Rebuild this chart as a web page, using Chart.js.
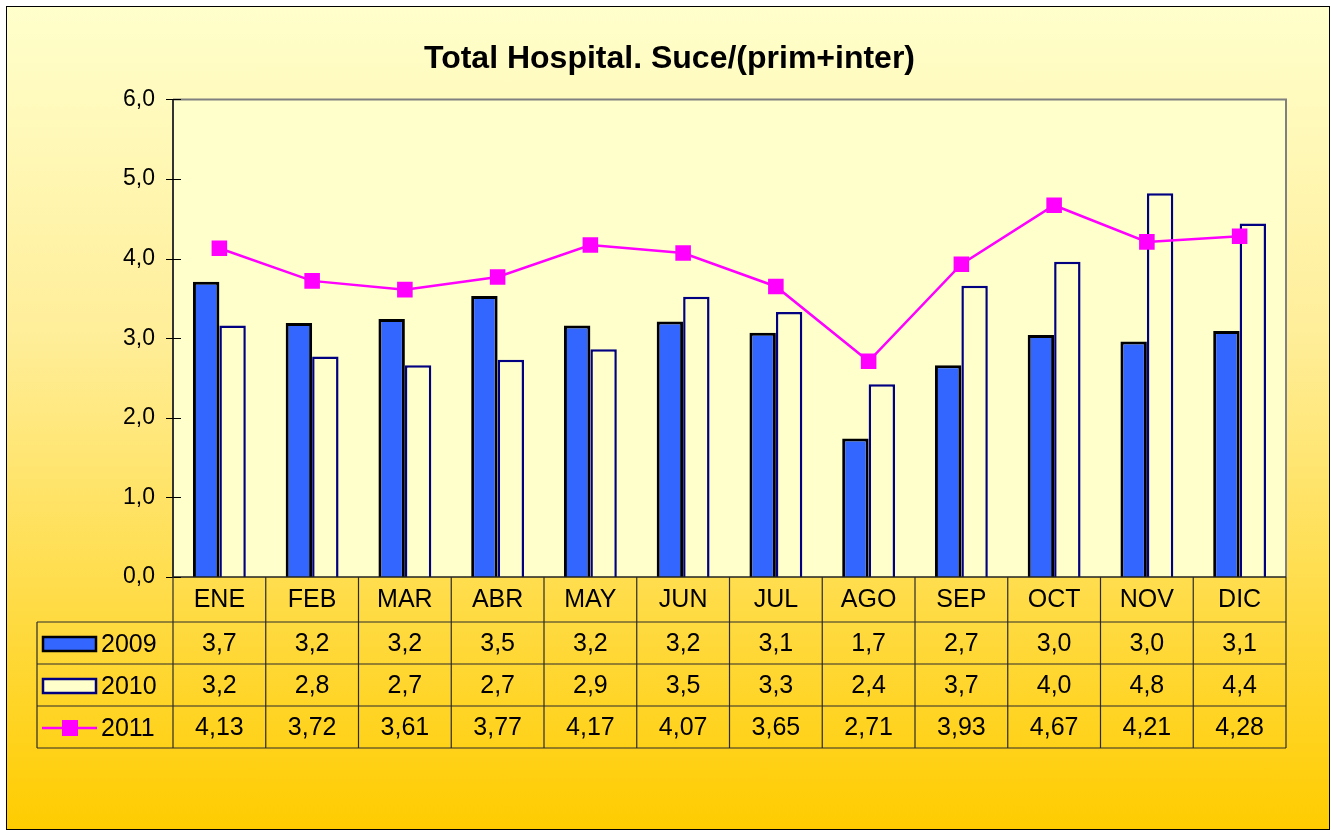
<!DOCTYPE html>
<html lang="es">
<head>
  <meta charset="UTF-8" />
  <title>Total Hospital. Suce/(prim+inter)</title>
  <script src="https://cdn.jsdelivr.net/npm/chart.js"></script>
  <style>
    body {
      margin: 0;
      padding: 0;
      background: #ffffff;
      font-family: 'Liberation Sans', Arial, sans-serif;
      overflow: hidden;
    }
    /* outer frame with the yellow gradient */
    #bg {
      position: absolute;
      left: 6px;
      top: 6px;
      width: 1322px;
      height: 822px;
      border: 1px solid #000;
      background: linear-gradient(to bottom, #FFFFCC 0%, #FFEE99 40%, #FFCC00 100%);
    }
    #chart {
      position: absolute;
      left: 0;
      top: 0;
    }
  </style>
</head>
<body>
  <div id="bg"></div>
  <canvas id="chart" width="1331" height="830"></canvas>

<script>
  // data
  const months = ['ENE', 'FEB', 'MAR', 'ABR', 'MAY', 'JUN', 'JUL', 'AGO', 'SEP', 'OCT', 'NOV', 'DIC'];
  const values2009 = [3.71, 3.19, 3.24, 3.53, 3.16, 3.21, 3.07, 1.74, 2.66, 3.04, 2.96, 3.09];
  const values2010 = [3.16, 2.77, 2.66, 2.73, 2.86, 3.52, 3.33, 2.42, 3.66, 3.96, 4.82, 4.44];
  const values2011 = [4.13, 3.72, 3.61, 3.77, 4.17, 4.07, 3.65, 2.71, 3.93, 4.67, 4.21, 4.28];
  const yTicks = [0, 1, 2, 3, 4, 5, 6];

  const FONT = "'Liberation Sans', Arial, sans-serif";
  const comma = (v, d) => v.toFixed(d).replace('.', ',');

  // table geometry
  const headerH = 45;
  const rowH = 42;
  const legendLeft = 37;

  const tableRows = [
    { label: '2009', values: values2009, digits: 1, kind: 'bar', fill: '#3366FF', stroke: '#000000' },
    { label: '2010', values: values2010, digits: 1, kind: 'bar', fill: '#FFFFCC', stroke: '#000080' },
    { label: '2011', values: values2011, digits: 2, kind: 'line', fill: '#FF00FF', stroke: '#FF00FF' }
  ];

  const dataTablePlugin = {
    id: 'dataTable',
    beforeDraw(chart) {
      const { ctx, chartArea: a } = chart;
      ctx.save();
      ctx.fillStyle = '#FFFFCC';
      ctx.fillRect(a.left, a.top, a.right - a.left, a.bottom - a.top);
      ctx.restore();
    },
    afterDraw(chart) {
      const { ctx, chartArea: a } = chart;
      const yScale = chart.scales.y;
      const w = (a.right - a.left) / months.length;
      ctx.save();

      // plot frame: top/right grey, left/bottom dark
      ctx.lineWidth = 2;
      ctx.strokeStyle = '#808080';
      ctx.beginPath();
      ctx.moveTo(a.left, a.top);
      ctx.lineTo(a.right, a.top);
      ctx.lineTo(a.right, a.bottom);
      ctx.stroke();
      ctx.strokeStyle = '#333333';
      ctx.beginPath();
      ctx.moveTo(a.left, a.top);
      ctx.lineTo(a.left, a.bottom);
      ctx.stroke();
      ctx.lineWidth = 1.5;
      ctx.strokeStyle = '#222222';
      ctx.beginPath();
      ctx.moveTo(a.left, a.bottom);
      ctx.lineTo(a.right, a.bottom);
      ctx.stroke();

      // y tick marks that cross the axis
      ctx.lineWidth = 1;
      ctx.strokeStyle = '#000';
      yTicks.forEach(t => {
        const y = Math.round(yScale.getPixelForValue(t)) + 0.5;
        ctx.beginPath();
        ctx.moveTo(a.left - 7, y);
        ctx.lineTo(a.left + 8, y);
        ctx.stroke();
      });

      // table grid
      const top = a.bottom;
      const rowsTop = top + headerH;
      const bottom = rowsTop + rowH * tableRows.length;
      ctx.strokeStyle = '#2a2a2a';
      ctx.lineWidth = 1.2;
      for (let i = 0; i <= months.length; i++) {
        const x = a.left + i * w;
        ctx.beginPath();
        ctx.moveTo(x, top);
        ctx.lineTo(x, bottom);
        ctx.stroke();
      }
      ctx.beginPath();
      ctx.moveTo(legendLeft, rowsTop);
      ctx.lineTo(legendLeft, bottom);
      ctx.stroke();
      for (let r = 0; r <= tableRows.length; r++) {
        const y = rowsTop + r * rowH;
        ctx.beginPath();
        ctx.moveTo(legendLeft, y);
        ctx.lineTo(a.right, y);
        ctx.stroke();
      }

      // category labels
      ctx.fillStyle = '#000';
      ctx.font = '25px ' + FONT;
      ctx.textAlign = 'center';
      ctx.textBaseline = 'middle';
      months.forEach((m, i) => {
        ctx.fillText(m, a.left + (i + 0.5) * w, top + headerH / 2 + 1);
      });

      // rows
      tableRows.forEach((row, r) => {
        const cy = rowsTop + r * rowH + rowH / 2 + 1;
        row.values.forEach((v, i) => {
          ctx.fillStyle = '#000';
          ctx.textAlign = 'center';
          ctx.fillText(comma(v, row.digits), a.left + (i + 0.5) * w, cy);
        });
        // legend key
        if (row.kind === 'bar') {
          ctx.fillStyle = row.fill;
          ctx.fillRect(43, cy - 7, 53, 14);
          ctx.lineWidth = 2.5;
          ctx.strokeStyle = row.stroke;
          ctx.strokeRect(43, cy - 7, 53, 14);
        } else {
          ctx.strokeStyle = row.stroke;
          ctx.lineWidth = 2.5;
          ctx.beginPath();
          ctx.moveTo(42, cy);
          ctx.lineTo(97, cy);
          ctx.stroke();
          ctx.fillStyle = row.fill;
          ctx.fillRect(62, cy - 8, 16, 16);
        }
        ctx.fillStyle = '#000';
        ctx.textAlign = 'left';
        ctx.fillText(row.label, 101, cy + 1);
      });

      ctx.restore();
    }
  };

  const ctx = document.getElementById('chart').getContext('2d');

  new Chart(ctx, {
    type: 'bar',
    data: {
      labels: months,
      datasets: [
        {
          type: 'line',
          label: '2011',
          data: values2011,
          borderColor: '#FF00FF',
          borderWidth: 2.5,
          pointStyle: 'rect',
          pointRadius: 11,
          pointBorderWidth: 0,
          pointBackgroundColor: '#FF00FF',
          tension: 0,
          order: 0
        },
        {
          label: '2009',
          data: values2009,
          backgroundColor: '#3366FF',
          borderColor: '#000000',
          borderWidth: 3,
          categoryPercentage: 0.57,
          barPercentage: 1.0,
          order: 1
        },
        {
          label: '2010',
          data: values2010,
          backgroundColor: '#FFFFCC',
          borderColor: '#000080',
          borderWidth: 2.5,
          categoryPercentage: 0.57,
          barPercentage: 1.0,
          order: 1
        }
      ]
    },
    options: {
      responsive: false,
      animation: false,
      layout: {
        padding: { left: 53, right: 45, top: 40, bottom: 253 }
      },
      plugins: {
        legend: { display: false },
        tooltip: { enabled: false },
        title: {
          display: true,
          text: 'Total Hospital. Suce/(prim+inter)',
          color: '#000',
          font: { family: FONT, size: 32, weight: 'bold' },
          padding: { top: 0, bottom: 21 }
        }
      },
      scales: {
        x: {
          display: false,
          offset: true
        },
        y: {
          min: 0,
          max: 6,
          afterFit: (axis) => { axis.width = 120; },
          afterBuildTicks: (axis) => { axis.ticks = yTicks.map(v => ({ value: v })); },
          grid: { display: false },
          border: { display: false },
          ticks: {
            color: '#000',
            padding: 10,
            font: { family: FONT, size: 23 },
            callback: (v) => comma(v, 1)
          }
        }
      }
    },
    plugins: [dataTablePlugin]
  });
</script>
</body>
</html>
